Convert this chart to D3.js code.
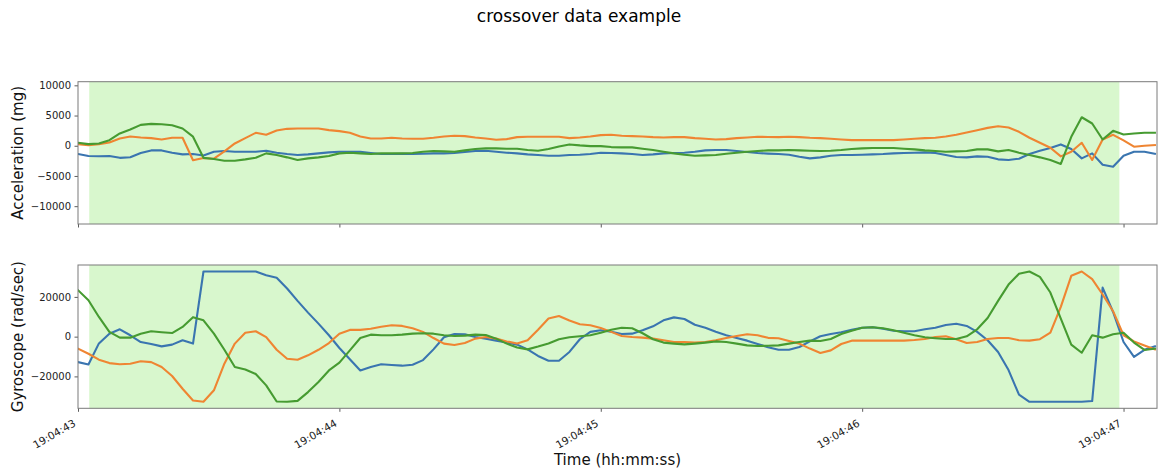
<!DOCTYPE html>
<html>
<head>
<meta charset="utf-8">
<script src="https://cdn.jsdelivr.net/npm/d3@7"></script>
<style>
  html, body { margin: 0; padding: 0; background: #fff; }
  svg { display: block; font-family: "DejaVu Sans", sans-serif; }
</style>
</head>
<body>
<svg id="chart" width="1158" height="470"></svg>
<script>
// Recording start and sample period (25 Hz IMU stream)
const startTime = new Date(2020, 0, 1, 19, 4, 43, 0);
const samplePeriodMs = 40;
const viewEndMs = 4128;

// Highlighted crossover window (ms after start)
const windowStartMs = 43;
const windowEndMs = 3984;

// Accelerometer (mg)
const accX = [-1370,-1700,-1750,-1700,-2000,-1900,-1200,-770,-770,-1150,-1430,-1370,-1600,-1000,-880,-1000,-1000,-1000,-820,-1150,-1370,-1540,-1430,-1260,-1100,-1000,-1000,-1000,-1200,-1370,-1370,
  -1320,-1370,-1320,-1260,-1260,-1200,-1040,-880,-820,-990,-1150,-1260,-1430,-1540,-1650,-1650,-1540,-1480,-1370,-1150,-1200,-1260,-1370,-1540,-1430,-1260,-1200,-1150,-990,-770,-710,-710,-880,-1040,-1200,
  -1300,-1370,-1480,-1810,-2090,-1920,-1650,-1540,-1540,-1480,-1430,-1370,-1260,-1200,-1150,-1100,-1200,-1540,-1870,-1920,-1760,-1810,-2250,-2360,-2140,-1370,-820,-380,220,-550,-2090,-1260,-3130,-3460,-1650,-990,-990,-1320];
const accY = [270,110,270,550,1200,1540,1370,1260,1040,1320,1320,-2400,-2030,-2140,-930,380,1260,2140,1810,2530,2800,2850,2850,2850,2580,2420,2140,1540,1200,1200,1320,
  1210,1150,1150,1320,1540,1650,1590,1370,1210,990,1100,1430,1480,1480,1480,1480,1260,1370,1540,1760,1810,1650,1590,1540,1430,1370,1430,1430,1260,1150,1040,1100,1260,1370,1480,
  1450,1430,1480,1430,1320,1260,1150,1040,930,930,930,930,930,1040,1150,1260,1320,1540,1810,2200,2580,2960,3240,3020,2310,1320,490,-330,-1760,-990,490,-2360,1040,1810,880,-160,0,110];
const accZ = [490,270,380,930,2030,2690,3460,3620,3570,3400,2850,1500,-2000,-2200,-2470,-2470,-2250,-1980,-1260,-1540,-1920,-2360,-2090,-1920,-1700,-1260,-1150,-1260,-1370,-1260,-1260,
  -1260,-1200,-990,-880,-930,-990,-770,-550,-440,-440,-490,-490,-710,-820,-550,-110,220,55,-55,-55,-220,-270,-270,-490,-710,-990,-1260,-1480,-1650,-1590,-1540,-1320,-1150,-990,-880,
  -770,-770,-710,-770,-820,-880,-820,-710,-550,-440,-380,-380,-380,-490,-600,-770,-880,-990,-930,-880,-600,-600,-930,-710,-1150,-1540,-1920,-2360,-3020,1480,4720,3680,1040,2470,1870,2030,2140,2140];

// Gyroscope (rad/sec), saturating at the int16 limits
const gyroX = [-12800,-14000,-3400,1500,3700,700,-2700,-3700,-4900,-4000,-1800,-3500,32767,32767,32767,32767,32767,32767,30900,29600,24200,18000,12100,6550,700,-5700,-11400,-17000,-15300,-13900,-14300,
  -14600,-14100,-11800,-6400,-300,1300,1200,-200,-1000,-2000,-2900,-4000,-6400,-9700,-12100,-12100,-7700,-1300,2400,3200,2500,1300,1500,3200,5200,8200,9700,8900,6000,4500,2500,700,-700,-2000,-3700,
  -5300,-6600,-6600,-5200,-2400,200,1300,2200,3400,4500,4700,4000,3000,2700,2700,3700,4500,5900,6500,5400,2400,-1800,-7700,-16800,-29200,-32768,-32768,-32768,-32768,-32768,-32768,-32400,24700,12400,-2700,-10200,-6600,-4900];
const gyroY = [-6000,-8600,-11600,-13300,-13900,-13600,-12400,-12800,-15300,-19800,-26200,-32100,-32768,-27000,-13600,-3500,2000,2700,-200,-6600,-11100,-11600,-9400,-6600,-3200,1500,3400,3400,4000,5000,5700,
  5400,4200,2400,-700,-3500,-4200,-3200,-1000,-200,-1000,-2400,-3400,-1800,3500,9100,10400,8100,6200,5700,4400,2400,300,-200,-500,-1000,-1800,-2700,-2700,-3000,-2700,-1800,-700,300,1200,700,
  -600,-800,-2200,-3500,-6000,-8200,-6900,-3700,-2000,-2000,-2000,-2000,-2000,-2000,-1700,-1200,-200,200,-1300,-3200,-2700,-1200,-700,-700,-1800,-2000,-1300,2000,15000,30600,32767,28900,21200,12800,700,-2400,-4400,-6400];
const gyroZ = [23400,18300,9900,2400,-500,-500,1500,2700,2200,1800,4900,9800,8200,1500,-6600,-15300,-16500,-18800,-24500,-32600,-32768,-32300,-27900,-22800,-17000,-13100,-6900,-700,1000,700,700,
  1000,1500,1700,1500,700,300,500,1000,800,-1000,-3500,-5500,-6400,-5000,-3400,-1300,-300,200,700,2000,3500,4500,4200,1700,-1300,-3000,-3500,-3900,-3500,-3000,-2400,-2700,-3500,-4400,-4700,
  -4600,-4400,-3500,-2700,-2000,-2200,-1200,1300,3000,4500,4700,4200,3200,2000,700,-300,-800,-1200,-1200,200,3700,9400,18000,26200,31600,32767,30100,22200,9100,-4000,-8100,700,-500,1200,2000,-3000,-6700,-6000];

// Axis ticks
const accTicks = [10000, 5000, 0, -5000, -10000];
const gyroTicks = [20000, 0, -20000];

const axisColors = ["#3a75b0", "#ef8532", "#469b31"];

const panels = [
  { label: "Acceleration (mg)", series: [accX, accY, accZ], domain: [-12950, 10600], ticks: accTicks, top: 81.7, bottom: 224 },
  { label: "Gyroscope (rad/sec)", series: [gyroX, gyroY, gyroZ], domain: [-36045, 36045], ticks: gyroTicks, top: 265, bottom: 408.3 }
];

const svg = d3.select("#chart");
const left = 78, right = 1157;

const times = accX.map((_, i) => new Date(+startTime + i * samplePeriodMs));
const x = d3.scaleTime()
  .domain([startTime, new Date(+startTime + viewEndMs)])
  .range([left, right]);
const secondTicks = x.ticks(d3.timeSecond.every(1));
const fmt = d3.timeFormat("%H:%M:%S");
const minusFmt = d => (d < 0 ? "\u2212" + Math.abs(d) : String(d));

svg.append("text")
  .attr("x", 579).attr("y", 22)
  .attr("text-anchor", "middle")
  .attr("font-size", 17)
  .attr("fill", "#000")
  .text("crossover data example");

panels.forEach((p, pi) => {
  const y = d3.scaleLinear().domain(p.domain).range([p.bottom, p.top]);
  const g = svg.append("g");

  const clipId = "clip" + pi;
  g.append("clipPath").attr("id", clipId)
    .append("rect")
    .attr("x", left).attr("y", p.top)
    .attr("width", right - left).attr("height", p.bottom - p.top);

  // highlighted window
  g.append("rect")
    .attr("x", x(new Date(+startTime + windowStartMs)))
    .attr("y", p.top)
    .attr("width", x(new Date(+startTime + windowEndMs)) - x(new Date(+startTime + windowStartMs)))
    .attr("height", p.bottom - p.top)
    .attr("fill", "#d8f7cd");

  const line = d3.line()
    .x((d, i) => x(times[i]))
    .y(d => y(d));

  const lines = g.append("g").attr("clip-path", `url(#${clipId})`);
  p.series.forEach((s, si) => {
    lines.append("path")
      .datum(s)
      .attr("d", line)
      .attr("fill", "none")
      .attr("stroke", axisColors[si])
      .attr("stroke-width", 2.1)
      .attr("stroke-linejoin", "round")
      .attr("stroke-linecap", "square");
  });

  // y axis
  const yAxis = d3.axisLeft(y).tickValues(p.ticks).tickSize(3.5).tickPadding(3.5).tickFormat(minusFmt);
  const ya = g.append("g").attr("transform", `translate(${left},0)`).call(yAxis);
  ya.select(".domain").remove();
  ya.selectAll("line").attr("stroke", "#333").attr("stroke-width", 0.8);
  ya.selectAll("text").attr("font-size", 10).attr("fill", "#222").attr("font-family", "DejaVu Sans, sans-serif");

  // x axis tick marks (labels only on the lower panel)
  const xAxis = d3.axisBottom(x).tickValues(secondTicks).tickSize(3.5).tickFormat(pi === 1 ? fmt : "");
  const xa = g.append("g").attr("transform", `translate(0,${p.bottom})`).call(xAxis);
  xa.select(".domain").remove();
  xa.selectAll("line").attr("stroke", "#333").attr("stroke-width", 0.8);
  if (pi === 1) {
    xa.selectAll("text")
      .attr("font-size", 10.5)
      .attr("fill", "#222")
      .attr("font-family", "DejaVu Sans, sans-serif")
      .attr("text-anchor", "end")
      .attr("dy", null)
      .attr("y", null)
      .attr("transform", "translate(-2,17) rotate(-30)");
  }

  // frame
  g.append("rect")
    .attr("x", left).attr("y", p.top)
    .attr("width", right - left).attr("height", p.bottom - p.top)
    .attr("fill", "none")
    .attr("stroke", "#7a7a7a")
    .attr("stroke-width", 1);

  // y label
  const cy = (p.top + p.bottom) / 2;
  g.append("text")
    .attr("transform", `translate(23,${cy}) rotate(-90)`)
    .attr("text-anchor", "middle")
    .attr("font-size", 15)
    .attr("fill", "#111")
    .text(p.label);
});

svg.append("text")
  .attr("x", (left + right) / 2).attr("y", 465)
  .attr("text-anchor", "middle")
  .attr("font-size", 15)
  .attr("fill", "#111")
  .text("Time (hh:mm:ss)");
</script>
</body>
</html>
